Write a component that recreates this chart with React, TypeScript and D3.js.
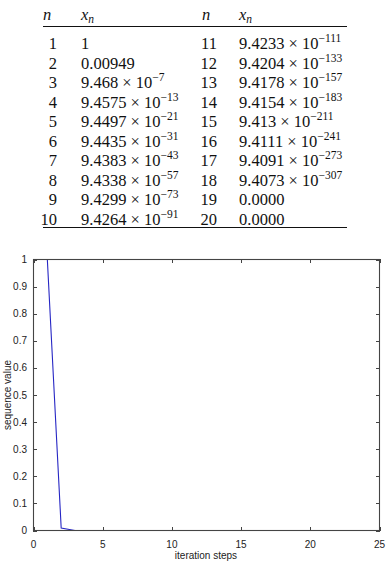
import React from "react";
import * as d3 from "d3";

const stepN = [1, 2, 3, 4, 5, 6, 7, 8, 9, 10, 11, 12, 13, 14, 15, 16, 17, 18, 19, 20];
const mantissas = ["1", "0.00949", "9.468", "9.4575", "9.4497", "9.4435", "9.4383", "9.4338", "9.4299", "9.4264",
  "9.4233", "9.4204", "9.4178", "9.4154", "9.413", "9.4111", "9.4091", "9.4073", "0.0000", "0.0000"];
const exponents: (number | null)[] = [null, null, -7, -13, -21, -31, -43, -57, -73, -91,
  -111, -133, -157, -183, -211, -241, -273, -307, null, null];
const seqValues = mantissas.map((m, i) => Number(exponents[i] === null ? m : `${m}e${exponents[i]}`));

const xTicks = [0, 5, 10, 15, 20, 25];
const yTicks = [0, 0.1, 0.2, 0.3, 0.4, 0.5, 0.6, 0.7, 0.8, 0.9, 1];

const W = 386, H = 562;
const plot = { left: 33, right: 380, top: 259, bottom: 531 };

export default function App() {
  const x = d3.scaleLinear().domain([0, 25]).range([plot.left + 0.5, plot.right - 0.5]);
  const y = d3.scaleLinear().domain([0, 1]).range([plot.bottom - 0.5, plot.top + 0.5]);
  const line = d3.line<number>().x((_, i) => x(stepN[i])).y((v) => y(v));

  const rowY = d3.scaleLinear().domain([1, 10]).range([44, 219.5]);
  const tableFont = "'Liberation Serif', serif";
  const sans = "'Liberation Sans', Arial, sans-serif";
  const axisColor = "#444";

  const cell = (i: number, colX: number, ny: number) => (
    <text key={"v" + i} x={colX} y={ny} fontFamily={tableFont} fontSize={16.5} fill="#111">
      {exponents[i] === null ? mantissas[i] : (
        <>
          {mantissas[i] + " \u00d7 10"}
          <tspan dy={-7} fontSize={11.5}>{"\u2212" + Math.abs(exponents[i] as number)}</tspan>
        </>
      )}
    </text>
  );

  return (
    <svg width={W} height={H} style={{ position: "absolute", left: 0, top: 0, background: "#fff" }}>
      {/* Table */}
      <g>
        {[[43, 81], [202, 239]].map(([nx, xx], k) => (
          <g key={"h" + k}>
            <text x={nx} y={20} fontFamily={tableFont} fontStyle="italic" fontSize={16.5} fill="#111">n</text>
            <text x={xx} y={20} fontFamily={tableFont} fontStyle="italic" fontSize={16.5} fill="#111">
              x<tspan dy={3} fontSize={11.5}>n</tspan>
            </text>
          </g>
        ))}
        <line x1={43} x2={347} y1={26.5} y2={26.5} stroke="#111" strokeWidth={1} />
        {stepN.map((n, i) => {
          const col = i < 10 ? 0 : 1;
          const ny = rowY((i % 10) + 1) + 5;
          const nRight = col === 0 ? 57 : 217;
          const valX = col === 0 ? 81 : 239;
          return (
            <g key={"r" + i}>
              <text x={nRight} y={ny} textAnchor="end" fontFamily={tableFont} fontSize={16.5} fill="#111">{n}</text>
              {cell(i, valX, ny)}
            </g>
          );
        })}
        <line x1={43} x2={347} y1={227.5} y2={227.5} stroke="#111" strokeWidth={1} />
      </g>

      {/* Plot */}
      <path d={line(seqValues) || ""} fill="none" stroke="#2626c4" strokeWidth={1.1} />
      <rect x={plot.left + 0.5} y={plot.top + 0.5} width={plot.right - plot.left - 1} height={plot.bottom - plot.top - 1}
        fill="none" stroke={axisColor} strokeWidth={1.1} />
      {xTicks.map((t) => (
        <g key={"xt" + t}>
          <line x1={Math.round(x(t)) + 0.5} x2={Math.round(x(t)) + 0.5} y1={plot.bottom} y2={plot.bottom - 4} stroke={axisColor} />
          <line x1={Math.round(x(t)) + 0.5} x2={Math.round(x(t)) + 0.5} y1={plot.top} y2={plot.top + 4} stroke={axisColor} />
          <text x={x(t)} y={548} textAnchor="middle" fontFamily={sans} fontSize={10} fill="#222">{t}</text>
        </g>
      ))}
      {yTicks.map((t) => (
        <g key={"yt" + t}>
          <line x1={plot.left} x2={plot.left + 4} y1={Math.round(y(t)) + 0.5} y2={Math.round(y(t)) + 0.5} stroke={axisColor} />
          <line x1={plot.right} x2={plot.right - 4} y1={Math.round(y(t)) + 0.5} y2={Math.round(y(t)) + 0.5} stroke={axisColor} />
          <text x={27} y={y(t) + 3.5} textAnchor="end" fontFamily={sans} fontSize={10} fill="#222">{t}</text>
        </g>
      ))}
      <text x={206} y={559} textAnchor="middle" fontFamily={sans} fontSize={10} fill="#222">iteration steps</text>
      <text transform={`translate(11, ${(plot.top + plot.bottom) / 2}) rotate(-90)`} textAnchor="middle"
        fontFamily={sans} fontSize={10} fill="#222">sequence value</text>
    </svg>
  );
}
